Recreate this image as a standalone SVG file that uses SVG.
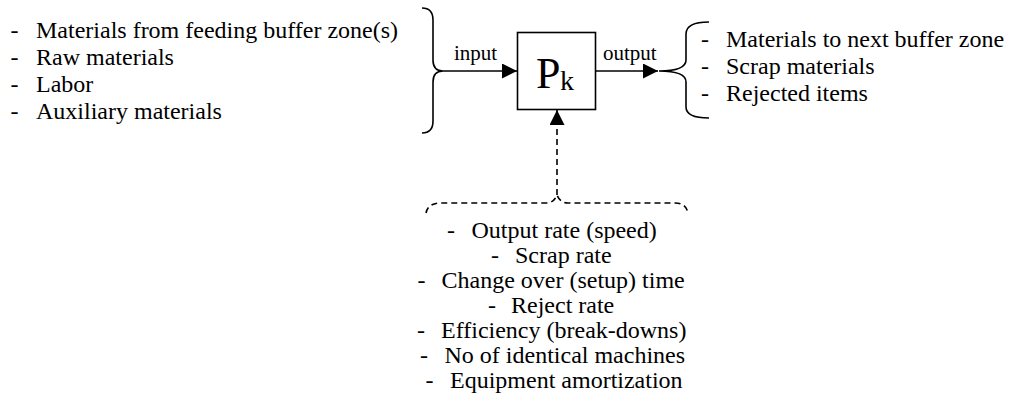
<svg xmlns="http://www.w3.org/2000/svg" width="1010" height="411" viewBox="0 0 1010 411">
  <style>
    text { font-family: "Liberation Serif", "Times New Roman", serif; fill: #000; }
    .item { font-size: 24px; }
    .lbl { font-size: 21px; }
    .line { fill: none; stroke: #000; stroke-width: 1.6; }
    .dash { stroke-dasharray: 6 4; }
  </style>
  <defs>
    <marker id="arrow" markerUnits="userSpaceOnUse" markerWidth="16" markerHeight="16" refX="15" refY="7.5" orient="auto">
      <path d="M0,0 L15,7.5 L0,15 Z" fill="#000" stroke="none"/>
    </marker>
  </defs>
  <rect width="1010" height="411" fill="#fff"/>

  <!-- inputs list -->
  <g id="inputs">
    <text class="item" x="10.5" y="37.5">-</text><text class="item" x="36" y="37.5">Materials from feeding buffer zone(s)</text>
    <text class="item" x="10.5" y="64.5">-</text><text class="item" x="36" y="64.5">Raw materials</text>
    <text class="item" x="10.5" y="91.5">-</text><text class="item" x="36" y="91.5">Labor</text>
    <text class="item" x="10.5" y="118.5">-</text><text class="item" x="36" y="118.5">Auxiliary materials</text>
    <path class="line" d="M422,8 Q433,8 433,20 L433,60 Q433,71 443,71 Q433,71 433,82 L433,121 Q433,133 422,133"/>
  </g>

  <!-- process box -->
  <g id="process">
    <rect class="line" x="517.5" y="32.5" width="78" height="77"/>
    <text x="536" y="88" font-size="44">P</text>
    <text x="560" y="90" font-size="28">k</text>
  </g>

  <!-- outputs list -->
  <g id="outputs">
    <path class="line" d="M709,22 Q686,22 686,34 L686,60 Q686,71 659,71 Q686,71 686,82 L686,107 Q686,118 709,118"/>
    <text class="item" x="701" y="47">-</text><text class="item" x="726" y="47">Materials to next buffer zone</text>
    <text class="item" x="701" y="74">-</text><text class="item" x="726" y="74">Scrap materials</text>
    <text class="item" x="701" y="101">-</text><text class="item" x="726" y="101">Rejected items</text>
  </g>

  <!-- machine parameters -->
  <g id="parameters">
    <path class="line dash" d="M426,213 Q428,203 441,203 L546,203 Q554,203 557,195 Q560,203 568,203 L675,203 Q686,203 688,213"/>
    <text class="item" x="447" y="238">-</text><text class="item" x="471.5" y="238">Output rate (speed)</text>
    <text class="item" x="491" y="263">-</text><text class="item" x="515" y="263">Scrap rate</text>
    <text class="item" x="417.5" y="288">-</text><text class="item" x="441.5" y="288">Change over (setup) time</text>
    <text class="item" x="488" y="313">-</text><text class="item" x="511" y="313">Reject rate</text>
    <text class="item" x="417" y="338">-</text><text class="item" x="441" y="338">Efficiency (break-downs)</text>
    <text class="item" x="420" y="363">-</text><text class="item" x="444.5" y="363">No of identical machines</text>
    <text class="item" x="425.5" y="388">-</text><text class="item" x="450" y="388">Equipment amortization</text>
  </g>

  <!-- connectors -->
  <g id="connectors">
    <line class="line" x1="443" y1="71" x2="517" y2="71" marker-end="url(#arrow)"/>
    <text class="lbl" x="454" y="60">input</text>
    <line class="line" x1="596" y1="71" x2="658" y2="71" marker-end="url(#arrow)"/>
    <text class="lbl" x="603" y="60">output</text>
    <line class="line dash" x1="557" y1="195" x2="557" y2="110" marker-end="url(#arrow)"/>
  </g>
</svg>
